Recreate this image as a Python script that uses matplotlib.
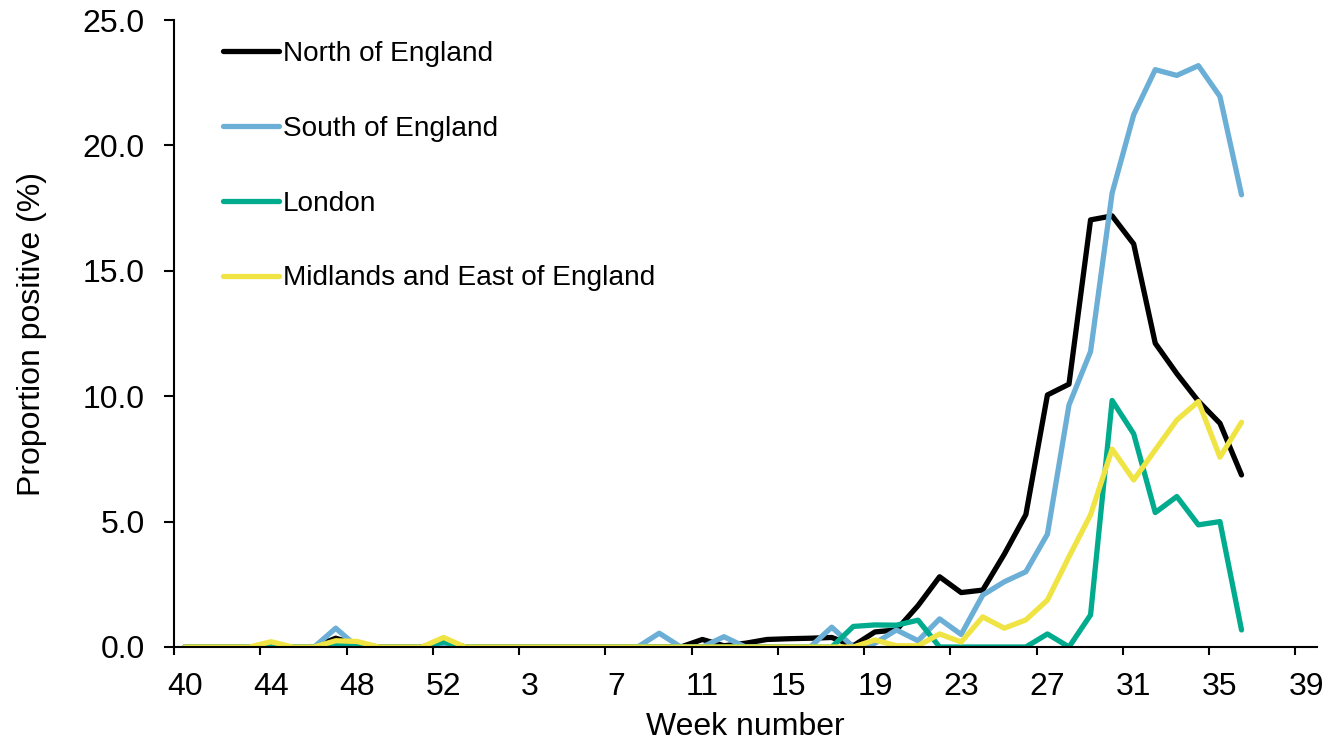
import matplotlib
matplotlib.use("Agg")
import matplotlib.pyplot as plt
import numpy as np

plt.rcParams['font.family'] = ['Liberation Sans', 'DejaVu Sans']

# week categories on the x axis (week 53 of 2020, then weeks 1-39)
weeks = [40, 41, 42, 43, 44, 45, 46, 47, 48, 49, 50, 51, 52, 53,
         1, 2, 3, 4, 5, 6, 7, 8, 9, 10, 11, 12, 13, 14, 15, 16, 17, 18, 19, 20,
         21, 22, 23, 24, 25, 26, 27, 28, 29, 30, 31, 32, 33, 34, 35, 36, 37, 38, 39]
label_every = 4

# proportion positive (%) per week, weeks 40 .. 36
north = [0, 0, 0, 0, 0, 0, 0, 0.35, 0.1, 0, 0, 0, 0.25, 0,
         0, 0, 0, 0, 0, 0, 0, 0, 0, 0, 0.3, 0.05, 0.15, 0.3, 0.33, 0.35, 0.38, 0.05,
         0.6, 0.68, 1.65, 2.8, 2.17, 2.27, 3.7, 5.28, 10.05, 10.48, 17.03, 17.19,
         16.07, 12.11, 10.9, 9.8, 8.92, 6.86]
south = [0, 0, 0, 0, 0, 0, 0, 0.75, 0, 0, 0, 0, 0, 0,
         0, 0, 0, 0, 0, 0, 0, 0, 0.55, 0, 0, 0.41, 0, 0, 0, 0, 0.79, 0,
         0.15, 0.68, 0.25, 1.12, 0.5, 2.07, 2.6, 3.0, 4.5, 9.65, 11.78, 18.1,
         21.22, 23.02, 22.79, 23.18, 21.95, 18.03]
london = [0, 0, 0, 0, 0.07, 0, 0, 0.12, 0.1, 0, 0, 0, 0.2, 0,
          0, 0, 0, 0, 0, 0, 0, 0, 0, 0, 0, 0, 0, 0, 0, 0, 0, 0.82,
          0.88, 0.87, 1.07, 0, 0, 0, 0, 0, 0.52, 0, 1.28, 9.83,
          8.5, 5.36, 6.0, 4.87, 5.0, 0.68]
midlands = [0, 0, 0, 0, 0.21, 0, 0, 0.25, 0.22, 0, 0, 0, 0.38, 0,
            0, 0, 0, 0, 0, 0, 0, 0, 0, 0, 0, 0, 0, 0, 0, 0, 0, 0,
            0.28, 0.05, 0.05, 0.52, 0.2, 1.2, 0.75, 1.08, 1.87, 3.6, 5.27, 7.89,
            6.66, 7.86, 9.05, 9.79, 7.57, 8.96]

series = [("North of England", north, "#000000"),
          ("South of England", south, "#6BAED6"),
          ("London", london, "#00AB8E"),
          ("Midlands and East of England", midlands, "#EFE443")]

fig = plt.figure(figsize=(13.27, 7.42), dpi=100)
ax = fig.add_axes([174 / 1327, 1 - 647 / 742, (1317 - 174) / 1327, (647 - 20) / 742])

for name, vals, col in series:
    ax.plot(np.arange(len(vals)), vals, color=col, lw=3.8, label=name,
            solid_capstyle='round', solid_joinstyle='round')

ncat = len(weeks)
ax.set_xlim(-0.5, ncat - 0.5)
ax.set_ylim(0, 25)

# labels at category centres, tick marks at category boundaries
pos = np.arange(0, ncat, label_every)
ax.set_xticks(pos)
ax.set_xticklabels([str(weeks[p]) for p in pos], fontsize=23)
ax.set_xticks(pos - 0.5, minor=True)
ax.tick_params(axis='x', which='major', length=0, pad=18)
ax.tick_params(axis='x', which='minor', length=6, width=1.5, direction='out')

ax.set_yticks(np.arange(0, 26, 5))
ax.set_yticklabels([f"{v:.1f}" for v in np.arange(0, 26, 5)], fontsize=23)
ax.tick_params(axis='y', length=7, width=1.5, direction='out', pad=14)

for s in ['top', 'right']:
    ax.spines[s].set_visible(False)
for s in ['left', 'bottom']:
    ax.spines[s].set_linewidth(1.5)

ax.set_xlabel("Week number", fontsize=23, labelpad=7)
ax.set_ylabel("Proportion positive (%)", fontsize=23, labelpad=26)

ax.legend(loc='upper left', bbox_to_anchor=(223 / 1327, 1 - 41 / 742),
          bbox_transform=fig.transFigure, frameon=False, fontsize=20.2,
          handlelength=1.98, handletextpad=0.15, labelspacing=1.74,
          borderpad=0, borderaxespad=0)

fig.savefig("out.png", dpi=100)
